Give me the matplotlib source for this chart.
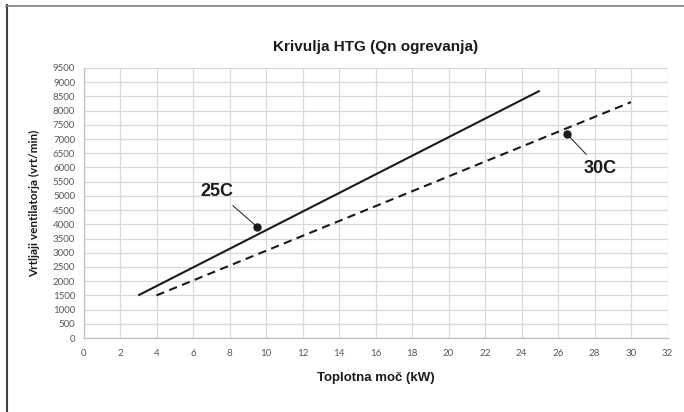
import matplotlib
matplotlib.use("Agg")
import matplotlib.pyplot as plt
from matplotlib.lines import Line2D
from matplotlib import font_manager

names = {f.name for f in font_manager.fontManager.ttflist}
narrow = "Liberation Sans Narrow" if "Liberation Sans Narrow" in names else "Liberation Sans"
tickfont = "Lato" if "Lato" in names else "DejaVu Sans"

# Data
x_25c = [3, 25]
y_25c = [1500, 8700]
x_30c = [4, 30]
y_30c = [1500, 8300]
label_25c = "25C"
label_30c = "30C"
dot_25c = (9.5, 3920)
text_25c = (7.3, 5150)
dot_30c = (26.5, 7170)
text_30c = (28.3, 5950)
x_ticks = list(range(0, 33, 2))
y_ticks = list(range(0, 9501, 500))
title = "Krivulja HTG (Qn ogrevanja)"
xlabel = "Toplotna moč (kW)"
ylabel = "Vrtljaji ventilatorja (vrt/min)"

fig = plt.figure(figsize=(6.84, 4.12), dpi=100)
fig.patch.set_facecolor("white")
ax = fig.add_axes([83.5/684, 1-338/412, (667.5-83.5)/684, (338-68)/412])

ax.plot(x_25c, y_25c, color="#1a1a1a", lw=1.5, solid_capstyle="butt")
ax.plot(x_30c, y_30c, color="#1a1a1a", lw=1.5, dashes=(4, 2.6))

for dot, txt, lab in [(dot_25c, text_25c, label_25c), (dot_30c, text_30c, label_30c)]:
    ax.plot([dot[0]], [dot[1]], "o", color="#1a1a1a", ms=5, zorder=5)
    ax.annotate(lab, xy=dot, xytext=txt, ha="center", va="center",
                fontsize=13, fontweight="bold", family=narrow, color="#1a1a1a",
                arrowprops=dict(arrowstyle="-", color="#1a1a1a", lw=0.7,
                                shrinkA=3, shrinkB=0))

ax.set_xlim(0, 32)
ax.set_ylim(0, 9500)
ax.set_xticks(x_ticks)
ax.set_yticks(y_ticks)
ax.grid(True, color="#d9d9d9", lw=0.9)
ax.set_axisbelow(True)
for s in ["top", "right"]:
    ax.spines[s].set_visible(False)
for s in ["left", "bottom"]:
    ax.spines[s].set_color("#bfbfbf")
    ax.spines[s].set_linewidth(0.9)
ax.tick_params(length=0, labelsize=7, labelcolor="#595959", pad=6)
ax.tick_params(axis="x", pad=8)
for lbl in ax.get_xticklabels() + ax.get_yticklabels():
    lbl.set_family(tickfont)

ax.set_xlabel(xlabel, fontsize=9.5, fontweight="bold", family=narrow, color="#1a1a1a", labelpad=10)
ax.set_ylabel(ylabel, fontsize=8.5, fontweight="bold", family=tickfont, color="#1a1a1a", labelpad=9)
fig.text(0.5 * (83.5 + 667.5) / 684, 1 - 47/412, title, ha="center", va="center",
         fontsize=11, fontweight="bold", family=narrow, color="#1a1a1a")

fig.add_artist(Line2D([6.5/684, 6.5/684], [0, 1 - 5/412], transform=fig.transFigure,
                      color="#404040", lw=1.5))
fig.add_artist(Line2D([6/684, 1], [1 - 5.5/412, 1 - 5.5/412], transform=fig.transFigure,
                      color="#808080", lw=1.2))

fig.savefig("out.png", dpi=100)
